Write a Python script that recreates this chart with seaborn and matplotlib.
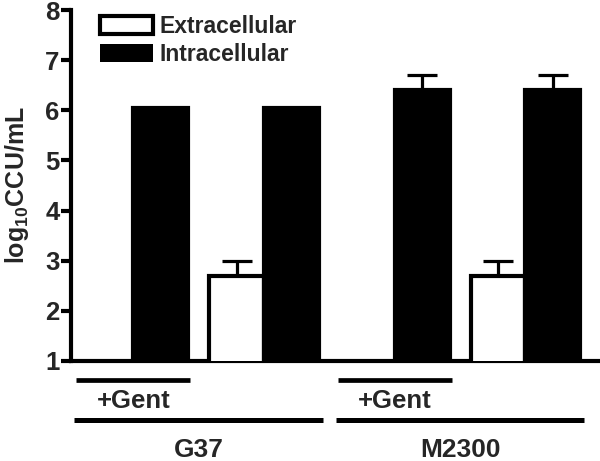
import numpy as np
import pandas as pd
import seaborn as sns
import matplotlib.pyplot as plt
import matplotlib.patches as mpatches
import matplotlib.transforms as mtransforms

conditions = ['G37 +Gent', 'G37', 'M2300 +Gent', 'M2300']
extracellular = [np.nan, 2.7, np.nan, 2.7]
extracellular_err = [np.nan, 0.3, np.nan, 0.3]
intracellular = [6.05, 6.05, 6.4, 6.4]
intracellular_err = [0.0, 0.0, 0.3, 0.3]
strains = ['G37', 'M2300']

rows = []
for c, v, e in zip(conditions, extracellular, extracellular_err):
    if not np.isnan(v):
        rows.append({'Condition': c, 'Type': 'Extracellular', 'Value': v, 'Err': e})
for c, v, e in zip(conditions, intracellular, intracellular_err):
    rows.append({'Condition': c, 'Type': 'Intracellular', 'Value': v, 'Err': e})
df = pd.DataFrame(rows)

sns.set_theme(style='ticks')
plt.rcParams['font.family'] = ['Liberation Sans', 'DejaVu Sans']
plt.rcParams['mathtext.fontset'] = 'custom'
plt.rcParams['mathtext.rm'] = 'Liberation Sans:bold'
plt.rcParams['mathtext.bf'] = 'Liberation Sans:bold'

fig = plt.figure(figsize=(6, 4.61), dpi=100)
ax = fig.add_axes([70.5 / 600, 1 - 361 / 461, 529.5 / 600, 351 / 461])

sns.barplot(data=df, x='Condition', y='Value', hue='Type', order=conditions,
            hue_order=['Extracellular', 'Intracellular'],
            palette={'Extracellular': 'white', 'Intracellular': 'black'},
            edgecolor='black', linewidth=3, width=0.84, errorbar=None,
            legend=False, ax=ax, zorder=3)

# error bars (upper only)
for cont, kind in zip(ax.containers, ['Extracellular', 'Intracellular']):
    sub = df[df['Type'] == kind]
    sub = sub.set_index('Condition').reindex([c for c in conditions if c in sub['Condition'].values])
    for bar, (cond, r) in zip(cont.patches, sub.iterrows()):
        if r['Err'] > 0:
            xc = bar.get_x() + bar.get_width() / 2
            ax.errorbar(xc, r['Value'], yerr=[[0], [r['Err']]], fmt='none',
                        ecolor='black', elinewidth=2.3, capsize=10.5,
                        capthick=2.3, zorder=2)

ax.set_ylim(1, 8)
ax.set_yticks(range(1, 9))
ax.set_xlim(-0.48, 3.57)
ax.set_xticks([])
ax.set_xlabel('')
ax.set_ylabel(r'log$_{\mathbf{10}}$CCU/mL', fontsize=18, fontweight='bold')
ax.yaxis.set_label_coords(-0.074, 0.5)
for lab in ax.get_yticklabels():
    lab.set_fontweight('bold')
ax.tick_params(axis='y', labelsize=18.5, length=7, width=3, pad=1, color='black')
for s in ['top', 'right']:
    ax.spines[s].set_visible(False)
for s in ['left', 'bottom']:
    ax.spines[s].set_linewidth(3)
    ax.spines[s].set_color('black')

# treatment / strain annotation under the axis
trans = mtransforms.blended_transform_factory(ax.transData, ax.transAxes)
for i, c in enumerate(conditions):
    if '+Gent' in c:
        ax.plot([i - 0.436, i + 0.436], [-0.054, -0.054], color='black', lw=3.4,
                transform=trans, clip_on=False, solid_capstyle='butt')
        ax.text(i, -0.114, '+Gent', ha='center', va='center', fontsize=18.5,
                fontweight='bold', transform=trans)
for j, s in enumerate(strains):
    ax.plot([2 * j - 0.45, 2 * j + 1 + 0.45], [-0.168, -0.168], color='black',
            lw=3.6, transform=trans, clip_on=False, solid_capstyle='butt')
    ax.text(2 * j + 0.5, -0.254, s, ha='center', va='center', fontsize=19,
            fontweight='bold', transform=trans)

handles = [mpatches.Patch(facecolor='white', edgecolor='black', linewidth=3, label='Extracellular'),
           mpatches.Patch(facecolor='black', edgecolor='black', linewidth=0, label='Intracellular')]
leg = ax.legend(handles=handles, loc='upper left', bbox_to_anchor=(0.056, 0.985),
                frameon=False, borderpad=0, borderaxespad=0, handlelength=2.3,
                handleheight=0.85, handletextpad=0.3, labelspacing=0.2,
                prop={'size': 16.5, 'weight': 'bold'})

fig.savefig('out.png', dpi=100)
